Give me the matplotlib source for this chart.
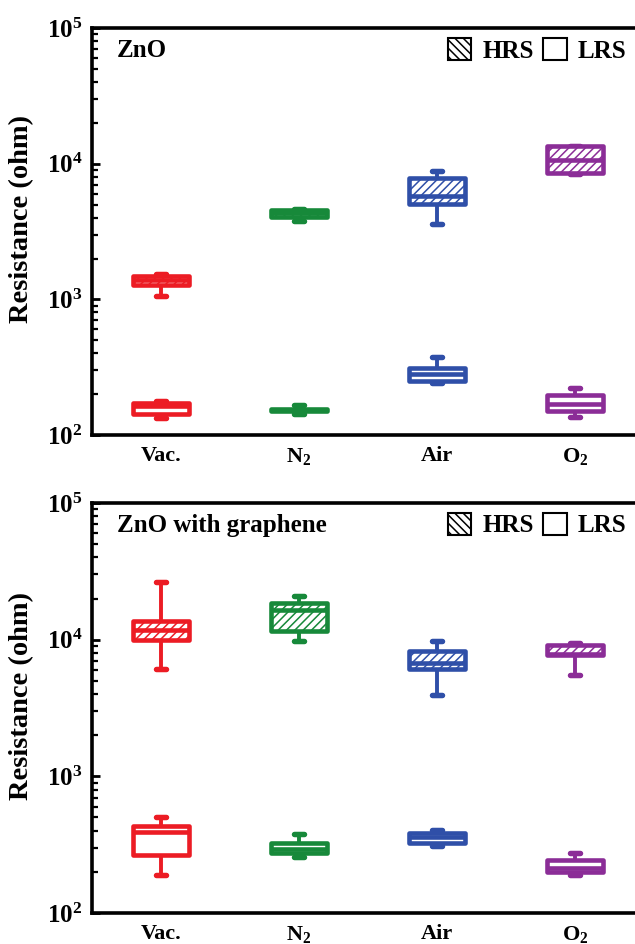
import numpy as np
import matplotlib.pyplot as plt
from matplotlib.patches import Patch
from matplotlib.ticker import LogLocator, FuncFormatter, NullFormatter

plt.rcParams['font.family'] = ['Liberation Serif', 'DejaVu Serif']
plt.rcParams['font.weight'] = 'bold'
plt.rcParams['mathtext.fontset'] = 'custom'
plt.rcParams['mathtext.rm'] = 'Liberation Serif:bold'
plt.rcParams['mathtext.bf'] = 'Liberation Serif:bold'
plt.rcParams['hatch.linewidth'] = 1.1

gases = ['Vac.', r'$\mathbf{N_2}$', 'Air', r'$\mathbf{O_2}$']
colors = ['#ec1c24', '#17893a', '#2f4fa8', '#8b2d97']

# box statistics per gas: [whisker low, q1, median, q3, whisker high]  (ohm)
zno_hrs = [[1060, 1277, 1377, 1483, 1527],
           [3790, 4045, 4300, 4560, 4600],
           [3570, 5005, 5780, 7850, 8770],
           [8400, 8470, 10600, 13400, 13600]]
zno_lrs = [[134, 143, 163, 171, 178],
           [142, 150, 153, 156, 165],
           [242, 252, 282, 310, 377],
           [136, 150, 169, 196, 222]]
gr_hrs = [[6130, 10000, 11740, 13770, 26600],
          [9840, 11640, 16450, 18500, 21000],
          [3920, 6110, 6730, 8310, 9840],
          [5495, 7770, 7850, 9110, 9420]]
gr_lrs = [[191, 268, 392, 430, 501],
          [259, 273, 292, 328, 376],
          [310, 323, 363, 382, 402],
          [191, 199, 214, 243, 277]]

panels = [('ZnO', zno_hrs, zno_lrs), ('ZnO with graphene', gr_hrs, gr_lrs)]

positions = np.arange(1, len(gases) + 1)
lw = 3.3


def draw_boxes(ax, rows, hatch):
    stats = [dict(whislo=r[0], q1=r[1], med=r[2], q3=r[3], whishi=r[4], fliers=[])
             for r in rows]
    art = ax.bxp(stats, positions=positions, widths=0.41, capwidths=0.07,
                 patch_artist=True, showfliers=False,
                 boxprops=dict(linewidth=lw, joinstyle='round'),
                 medianprops=dict(linewidth=lw, solid_capstyle='butt'),
                 whiskerprops=dict(linewidth=lw * 0.85),
                 capprops=dict(linewidth=lw * 1.2, solid_capstyle='round'))
    for i, c in enumerate(colors):
        box = art['boxes'][i]
        box.set_facecolor('white')
        box.set_edgecolor(c)
        if hatch:
            box.set_hatch(hatch)
        art['medians'][i].set_color(c)
        for ln in art['whiskers'][2 * i:2 * i + 2] + art['caps'][2 * i:2 * i + 2]:
            ln.set_color(c)
    for b in art['boxes']:
        b.set_zorder(3)
    for m in art['medians']:
        m.set_zorder(4)


fig = plt.figure(figsize=(6.35, 9.44), dpi=100)
ax_top = fig.add_axes([0.1449, 0.5392, 0.8693, 0.4311])
ax_bot = fig.add_axes([0.1449, 0.0328, 0.8693, 0.4344])

for ax, (title, hrs, lrs) in zip([ax_top, ax_bot], panels):
    draw_boxes(ax, lrs, None)
    draw_boxes(ax, hrs, '////')

    ax.set_yscale('log')
    ax.set_ylim(1e2, 1e5)
    ax.set_xlim(0.5, 4.5)
    ax.set_xticks(positions)
    ax.set_xticklabels(gases, fontsize=16, fontweight='bold')
    ax.tick_params(axis='x', length=0, pad=8)

    ax.yaxis.set_major_locator(LogLocator(base=10, numticks=10))
    ax.yaxis.set_minor_locator(LogLocator(base=10, subs=np.arange(2, 10), numticks=10))
    ax.yaxis.set_major_formatter(FuncFormatter(lambda v, p: r'$\mathbf{10^{%d}}$' % round(np.log10(v))))
    ax.yaxis.set_minor_formatter(NullFormatter())
    ax.tick_params(axis='y', which='major', direction='in', length=6, width=2,
                   labelsize=18, pad=7)
    ax.tick_params(axis='y', which='minor', direction='in', length=4, width=1.6)

    for s in ax.spines.values():
        s.set_linewidth(2.6)

    ax.set_ylabel('Resistance (ohm)', fontsize=20.5, fontweight='bold')
    ax.yaxis.set_label_coords(-0.105, 0.53)

    ax.text(0.045, 0.945, title, transform=ax.transAxes, fontsize=18,
            fontweight='bold', va='center', ha='left')

    handles = [Patch(facecolor='white', edgecolor='black', hatch='\\\\\\\\', linewidth=1.5),
               Patch(facecolor='white', edgecolor='black', linewidth=1.5)]
    ax.legend(handles, ['HRS', 'LRS'], loc='upper right', bbox_to_anchor=(1.0, 1.018),
              ncol=2, frameon=False, fontsize=18, handlelength=0.95, handleheight=0.95,
              handletextpad=0.45, columnspacing=0.35, borderaxespad=0.3)

fig.savefig('out.png', dpi=100)
